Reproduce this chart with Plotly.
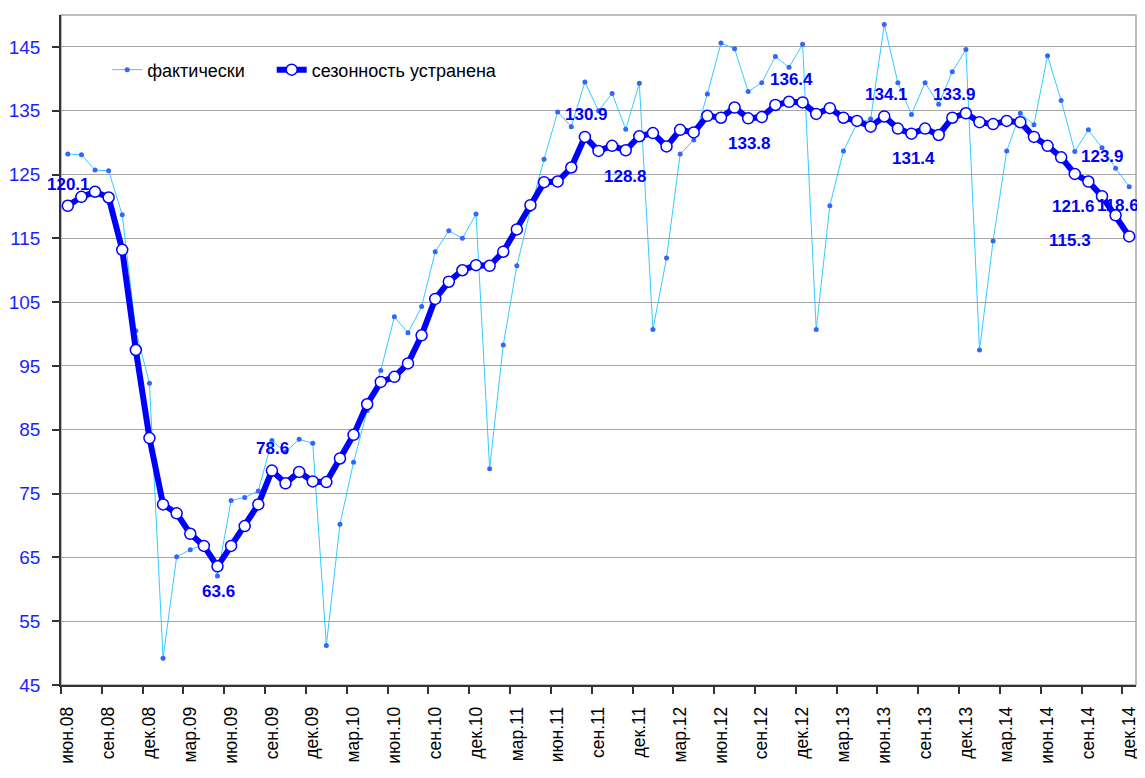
import plotly.graph_objects as go

# ---- data ----
month_abbr = ["янв", "фев", "мар", "апр", "май", "июн", "июл", "авг", "сен", "окт", "ноя", "дек"]
months = [f"{month_abbr[m]}.{y:02d}" for y in range(8, 15) for m in range(12)][5:]  # июн.08 .. дек.14

actual = [128.2, 128.1, 125.7, 125.6, 118.7, 100.5, 92.3, 49.2, 65.1, 66.2,
          67.0, 62.1, 73.9, 74.4, 75.4, 83.3, 81.5, 83.5, 82.9, 51.2,
          70.2, 79.9, 88.0, 94.3, 102.7, 100.2, 104.3, 112.9, 116.2, 115.0,
          118.8, 78.9, 98.3, 110.7, 119.5, 127.4, 134.8, 132.5, 139.5, 135.0,
          137.7, 132.1, 139.3, 100.7, 111.9, 128.2, 130.4, 137.6, 145.6, 144.7,
          138.0, 139.4, 143.5, 141.8, 145.4, 100.7, 120.1, 128.7, 133.0, 133.7,
          148.5, 139.4, 134.4, 139.4, 136.0, 141.1, 144.6, 97.5, 114.6, 128.7,
          134.6, 132.8, 143.6, 136.6, 128.6, 132.0, 129.2, 126.0, 123.1]

seas_adj = [120.1, 121.5, 122.3, 121.4, 113.2, 97.5, 83.7, 73.3, 71.9, 68.7,
            66.8, 63.6, 66.8, 69.9, 73.3, 78.6, 76.6, 78.4, 76.9, 76.8,
            80.5, 84.2, 89.0, 92.5, 93.3, 95.4, 99.8, 105.5, 108.2, 110.0,
            110.8, 110.7, 112.9, 116.4, 120.2, 123.8, 123.9, 126.1, 130.9, 128.7,
            129.5, 128.8, 131.0, 131.5, 129.4, 132.0, 131.6, 134.2, 133.9, 135.5,
            133.8, 134.0, 135.9, 136.4, 136.3, 134.5, 135.4, 133.9, 133.4, 132.5,
            134.1, 132.2, 131.4, 132.2, 131.2, 133.9, 134.6, 133.2, 132.9, 133.4,
            133.2, 130.9, 129.5, 127.7, 125.1, 123.9, 121.6, 118.6, 115.3]

y_ticks = [45, 55, 65, 75, 85, 95, 105, 115, 125, 135, 145]
labeled_points = [0, 11, 15, 38, 41, 50, 53, 60, 62, 65, 75, 76, 77, 78]

# ---- label placement (pixel offsets, style only) ----
label_offsets = {0: (1, 21), 11: (1, -25), 15: (1, 22), 38: (2, 22), 41: (0, -26),
                 50: (1, -25), 53: (2, 22), 60: (2, 22), 62: (2, -25), 65: (2, 23),
                 75: (14, 25), 76: (-28, -10), 77: (2, 10), 78: (-59, -4)}

x_idx = list(range(len(months)))
FONT = "Liberation Sans, Arial, sans-serif"

fig = go.Figure()
fig.add_trace(go.Scatter(
    x=x_idx, y=actual, mode="lines+markers", name="фактически",
    line=dict(color="#33CCFF", width=1),
    marker=dict(color="#3366FF", size=5),
    legend="legend",
))
fig.add_trace(go.Scatter(
    x=x_idx, y=seas_adj, mode="lines+markers", name="сезонность устранена",
    line=dict(color="#0000FF", width=6),
    marker=dict(color="white", size=11, line=dict(color="#0000FF", width=1.5)),
    legend="legend2",
))

annotations = []
for i in labeled_points:
    dx, dy = label_offsets[i]
    annotations.append(dict(
        x=x_idx[i], y=seas_adj[i], text=f"{seas_adj[i]:.1f}", showarrow=False,
        xshift=dx, yshift=dy,
        font=dict(family=FONT, size=17, color="#0000FF", weight="bold"),
    ))

legend_style = dict(orientation="h", xanchor="left", yanchor="middle",
                    font=dict(family=FONT, size=18, color="black"),
                    bgcolor="rgba(0,0,0,0)", itemwidth=30)

fig.update_layout(
    width=1145, height=778,
    margin=dict(l=53, r=17, t=7, b=101, autoexpand=False),
    paper_bgcolor="white", plot_bgcolor="white",
    showlegend=True,
    legend=dict(x=0.043, y=0.918, **legend_style),
    legend2=dict(x=0.196, y=0.918, **legend_style),
    annotations=annotations,
    shapes=[dict(type="rect", xref="paper", yref="paper", x0=0, x1=1, y0=0, y1=1,
                 line=dict(color="#A6A6A6", width=1.5), layer="below")],
    hovermode=False,
)

fig.update_xaxes(
    automargin=False,
    range=[-0.5, len(months) - 0.5],
    tickmode="array", tickvals=x_idx[::3], ticktext=months[::3],
    tickangle=-90, ticks="", ticklabelstandoff=13,
    tickfont=dict(family=FONT, size=17.5, color="black"),
    showgrid=False, zeroline=False,
    showline=True, linecolor="#333333", linewidth=1.5,
    minor=dict(tickmode="linear", tick0=-0.5, dtick=3, ticks="outside",
               ticklen=7, tickcolor="#333333", tickwidth=1.5, showgrid=False),
)
fig.update_yaxes(
    automargin=False,
    range=[45, 150], tickmode="array", tickvals=y_ticks,
    ticks="outside", ticklen=7, tickcolor="#333333", tickwidth=1.5,
    ticklabelstandoff=8,
    tickfont=dict(family=FONT, size=19, color="#1E1EFF"),
    showgrid=True, gridcolor="#A6A6A6", gridwidth=1.2,
    zeroline=False, showline=True, linecolor="#333333", linewidth=1.5,
)

fig.write_html("out.html")
